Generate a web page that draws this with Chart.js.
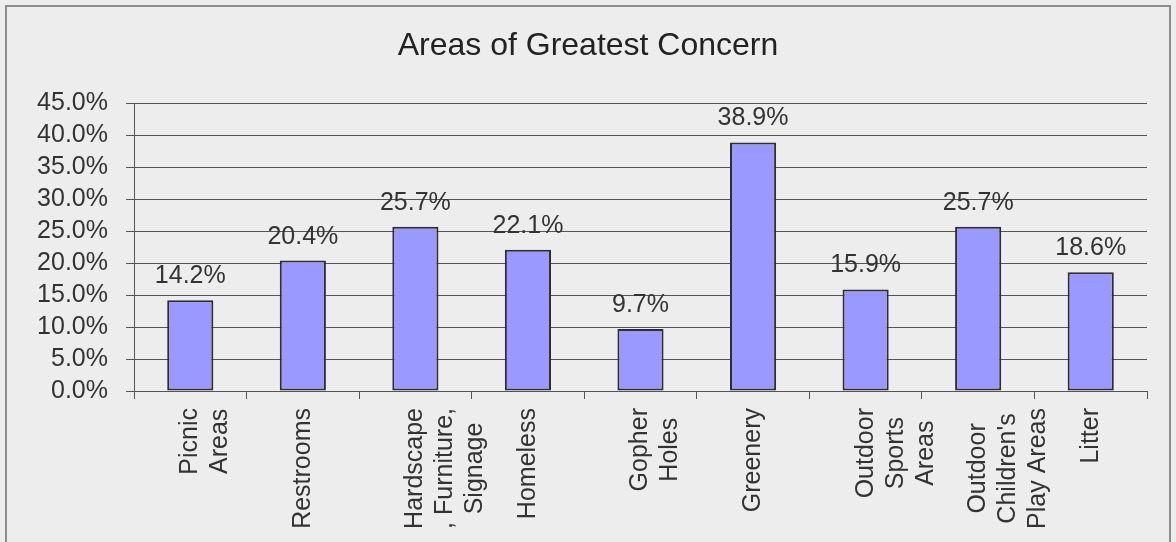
<!DOCTYPE html>
<html>
<head>
<meta charset="utf-8">
<script src="https://cdn.jsdelivr.net/npm/chart.js@4/dist/chart.umd.min.js"></script>
<style>
  html, body { margin: 0; padding: 0; background: #ededed; overflow: hidden; }
  #frame {
    position: absolute; left: 5px; top: 5px;
    width: 1166px; height: 580px;
    box-sizing: border-box;
    border: 2px solid #8c8c8c;
  }
  #wrap { position: absolute; left: 0; top: 0; width: 1162px; height: 534px; }
</style>
</head>
<body>
<div id="frame"><div id="wrap"><canvas id="chart"></canvas></div></div>
<script>
// chart data
const categories = [
    ["Picnic", "Areas"],
    ["Restrooms"],
    ["Hardscape", ", Furniture,", "Signage"],
    ["Homeless"],
    ["Gopher", "Holes"],
    ["Greenery"],
    ["Outdoor", "Sports", "Areas"],
    ["Outdoor", "Children's", "Play Areas"],
    ["Litter"]
];
const concernValues = [14.2, 20.4, 25.7, 22.1, 9.7, 38.9, 15.9, 25.7, 18.6];
const yTicks = [0, 5, 10, 15, 20, 25, 30, 35, 40, 45];

const FONT = "'Liberation Sans', Arial, sans-serif";

// write the percent above every bar
const barLabels = {
    id: 'barLabels',
    afterDatasetsDraw(chart) {
        const ctx = chart.ctx;
        const meta = chart.getDatasetMeta(0);
        ctx.save();
        ctx.font = "25px " + FONT;
        ctx.fillStyle = "#333";
        ctx.textAlign = "center";
        ctx.textBaseline = "alphabetic";
        meta.data.forEach((bar, i) => {
            ctx.fillText(concernValues[i].toFixed(1) + "%", bar.x, bar.y - 17);
        });
        ctx.restore();
    }
};

// centre the lines of each rotated category label
const centerLines = {
    id: 'centerLines',
    beforeDraw(chart) {
        const scale = chart.scales.x;
        const items = scale.getLabelItems();
        const ctx = chart.ctx;
        ctx.save();
        items.forEach(item => {
            ctx.font = item.font.string;
            const lines = Array.isArray(item.label) ? item.label : [item.label];
            const w = Math.max(...lines.map(l => ctx.measureText(l).width));
            if (item.options.textAlign !== 'center') {
                item.options.textAlign = 'center';
                item.options.translation[1] += w / 2;
            }
        });
        ctx.restore();
    }
};

const ctx = document.getElementById('chart').getContext('2d');
new Chart(ctx, {
    type: 'bar',
    data: {
        labels: categories,
        datasets: [{
            data: concernValues,
            backgroundColor: '#9999ff',
            borderColor: '#2e2e2e',
            borderWidth: 2,
            borderSkipped: false,
            categoryPercentage: 1,
            barPercentage: 0.41
        }]
    },
    options: {
        responsive: true,
        maintainAspectRatio: false,
        animation: false,
        layout: { padding: 0 },
        plugins: {
            legend: { display: false },
            tooltip: { enabled: false },
            title: {
                display: true,
                text: 'Areas of Greatest Concern',
                color: '#222',
                font: { family: FONT, size: 32, weight: 'normal' },
                padding: { top: 20, bottom: 38 }
            }
        },
        scales: {
            x: {
                grid: {
                    display: true,
                    drawOnChartArea: false,
                    drawTicks: true,
                    tickLength: 8,
                    color: '#555'
                },
                border: { color: '#555', width: 1 },
                ticks: {
                    minRotation: 90,
                    maxRotation: 90,
                    autoSkip: false,
                    padding: 9,
                    color: '#333',
                    font: { family: FONT, size: 25, lineHeight: 1.2 }
                },
                afterFit(scale) { scale.height = 150; }
            },
            y: {
                min: 0,
                max: 45,
                afterBuildTicks(scale) { scale.ticks = yTicks.map(v => ({ value: v })); },
                grid: { color: '#555', tickLength: 8 },
                border: { color: '#555', width: 1 },
                ticks: {
                    autoSkip: false,
                    padding: 18,
                    color: '#333',
                    font: { family: FONT, size: 25 },
                    callback: v => v.toFixed(1) + '%'
                },
                afterFit(scale) { scale.width = 127; }
            },
            // empty right-hand margin so the title stays centred on the frame
            yRight: {
                position: 'right',
                display: true,
                grid: { display: false },
                border: { display: false },
                ticks: { display: false },
                afterFit(scale) { scale.width = 22; }
            }
        }
    },
    plugins: [barLabels, centerLines]
});
</script>
</body>
</html>
